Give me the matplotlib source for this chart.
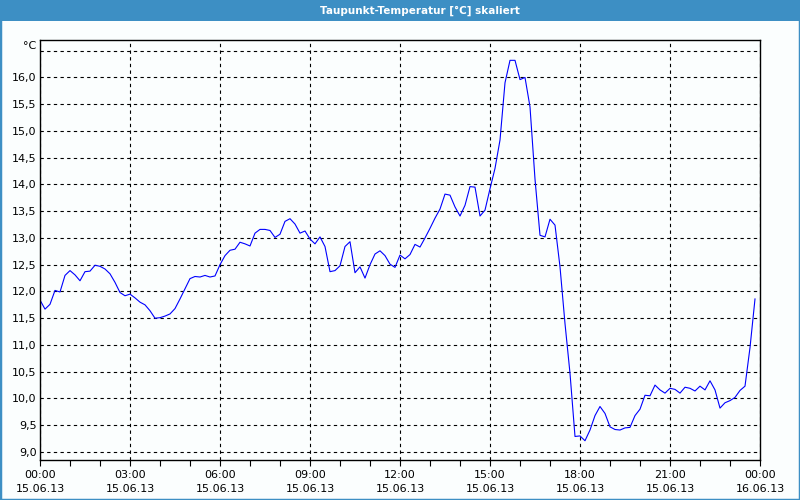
import matplotlib
matplotlib.use('Agg')
import matplotlib.pyplot as plt
import matplotlib.dates as mdates
from matplotlib.ticker import FuncFormatter, FixedLocator
from matplotlib.patches import Rectangle
import pandas as pd

# Taupunkt, alle 10 Minuten ab 15.06.13 00:00
zeiten = pd.date_range('2013-06-15 00:00', periods=144, freq='10min')
taupunkt = [
    11.84, 11.67, 11.76, 12.02, 11.99, 12.30, 12.39, 12.31, 12.20, 12.37,
    12.38, 12.49, 12.47, 12.42, 12.33, 12.17, 11.98, 11.92, 11.95, 11.88,
    11.80, 11.75, 11.64, 11.50, 11.51, 11.54, 11.58, 11.68, 11.86, 12.05,
    12.24, 12.28, 12.27, 12.30, 12.27, 12.29, 12.50, 12.67, 12.77, 12.79,
    12.92, 12.89, 12.85, 13.09, 13.16, 13.16, 13.14, 13.01, 13.07, 13.31,
    13.36, 13.26, 13.09, 13.13, 12.98, 12.89, 13.02, 12.84, 12.37, 12.39,
    12.48, 12.84, 12.93, 12.35, 12.46, 12.25, 12.50, 12.70, 12.76, 12.67,
    12.51, 12.45, 12.68, 12.61, 12.69, 12.88, 12.83, 13.00, 13.18, 13.37,
    13.54, 13.82, 13.80, 13.58, 13.41, 13.61, 13.96, 13.95, 13.41, 13.52,
    13.92, 14.30, 14.83, 15.90, 16.32, 16.32, 15.96, 16.00, 15.45, 14.10,
    13.05, 13.02, 13.35, 13.24, 12.46, 11.40, 10.47, 9.29, 9.30, 9.21,
    9.41, 9.68, 9.85, 9.72, 9.47, 9.42, 9.41, 9.45, 9.46, 9.68,
    9.80, 10.06, 10.05, 10.25, 10.16, 10.10, 10.19, 10.17, 10.10, 10.21,
    10.19, 10.14, 10.23, 10.16, 10.33, 10.16, 9.82, 9.92, 9.96, 10.02,
    10.15, 10.23, 10.95, 11.86,
]
y_ticks = [9.0, 9.5, 10.0, 10.5, 11.0, 11.5, 12.0, 12.5, 13.0, 13.5,
           14.0, 14.5, 15.0, 15.5, 16.0, 16.5]
titel = 'Taupunkt-Temperatur [°C] skaliert'

blau_rahmen = '#3d8fc4'
hintergrund = '#fbfefe'

fig = plt.figure(figsize=(8, 5), dpi=100, facecolor=hintergrund)
ax = fig.add_axes([40 / 800, 40 / 500, 720 / 800, 420 / 500])
ax.set_facecolor(hintergrund)

ax.plot(zeiten, taupunkt, color='#0000ff', linewidth=0.8)

start = pd.Timestamp('2013-06-15 00:00')
ende = pd.Timestamp('2013-06-16 00:00')
ax.set_xlim(start, ende)
ax.set_ylim(8.85, 16.70)

ax.xaxis.set_major_locator(mdates.HourLocator(byhour=range(0, 24, 3)))
ax.xaxis.set_minor_locator(mdates.HourLocator())
ax.xaxis.set_major_formatter(mdates.DateFormatter('%H:%M\n%d.%m.%y'))

ax.yaxis.set_major_locator(FixedLocator(y_ticks))
ax.yaxis.set_major_formatter(FuncFormatter(
    lambda v, p: '' if v > 16.2 else f'{v:.1f}'.replace('.', ',')))

ax.grid(True, which='major', color='black', linestyle=(0, (3, 3)), linewidth=0.8)
ax.tick_params(axis='y', length=0, pad=2.5, labelsize=8)
ax.tick_params(axis='x', which='major', length=4, width=0.8, pad=3.5, labelsize=8)
ax.tick_params(axis='x', which='minor', length=4, width=0.8)
for lbl in ax.get_xticklabels():
    lbl.set_linespacing(1.5)
for s in ax.spines.values():
    s.set_color('black')
    s.set_linewidth(1.0)

fig.text(36 / 800, 1 - 46 / 500, '°C', ha='right', va='center', fontsize=8)

# Titelleiste und Fensterrahmen
fig.patches.append(Rectangle((0, 1 - 21 / 500), 1, 21 / 500, transform=fig.transFigure,
                             facecolor=blau_rahmen, edgecolor='none', zorder=0))
fig.patches.append(Rectangle((0, 0), 1, 1, transform=fig.transFigure,
                             facecolor='none', edgecolor=blau_rahmen, linewidth=2.5, zorder=0))
fig.text(420 / 800, 1 - 10.5 / 500, titel, ha='center', va='center',
         color='white', fontsize=7.5, fontweight='bold')

fig.savefig('out.png', dpi=100, facecolor=hintergrund)
